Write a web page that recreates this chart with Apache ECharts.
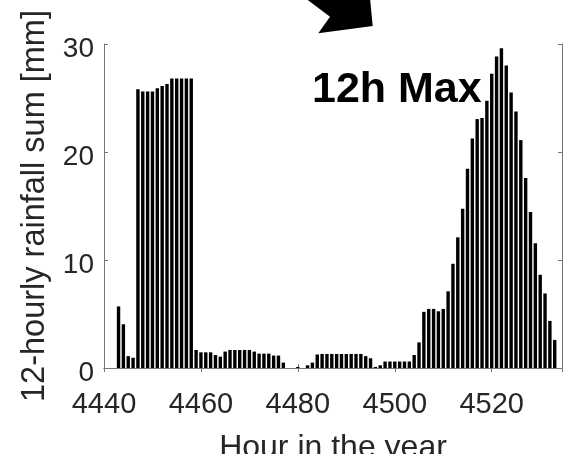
<!DOCTYPE html>
<html lang="en">
<head>
  <meta charset="UTF-8">
  <title>12h Max rainfall</title>
  <script src="https://cdn.jsdelivr.net/npm/echarts@6/dist/echarts.min.js"></script>
  <style>
    body { margin: 0; background: #fff; }
    #chart { width: 563px; height: 454px; }
  </style>
</head>
<body>
  <div id="chart"></div>
  <script>
    // hour of the year for each bar
    const hours = [
      4443, 4444, 4445, 4446, 4447, 4448, 4449, 4450, 4451, 4452,
      4453, 4454, 4455, 4456, 4457, 4458, 4459, 4460, 4461, 4462,
      4463, 4464, 4465, 4466, 4467, 4468, 4469, 4470, 4471, 4472,
      4473, 4474, 4475, 4476, 4477, 4478, 4479, 4480, 4481, 4482,
      4483, 4484, 4485, 4486, 4487, 4488, 4489, 4490, 4491, 4492,
      4493, 4494, 4495, 4496, 4497, 4498, 4499, 4500, 4501, 4502,
      4503, 4504, 4505, 4506, 4507, 4508, 4509, 4510, 4511, 4512,
      4513, 4514, 4515, 4516, 4517, 4518, 4519, 4520, 4521, 4522,
      4523, 4524, 4525, 4526, 4527, 4528, 4529, 4530, 4531, 4532,
      4533
    ];
    // 12-hourly rainfall sum [mm]
    const rainfall = [
      5.7, 4.05, 1.1, 0.95, 25.8, 25.6, 25.6, 25.6, 25.9, 26.1,
      26.3, 26.8, 26.8, 26.8, 26.8, 26.8, 1.67, 1.45, 1.45, 1.45,
      1.2, 1.05, 1.52, 1.67, 1.67, 1.67, 1.67, 1.67, 1.52, 1.33,
      1.33, 1.33, 1.15, 1.15, 0.5, 0, 0, 0.1, 0, 0.25,
      0.5, 1.25, 1.3, 1.3, 1.3, 1.3, 1.3, 1.3, 1.3, 1.3,
      1.3, 1.1, 0.9, 0.1, 0.25, 0.6, 0.6, 0.6, 0.6, 0.6,
      0.6, 1.2, 2.37, 5.2, 5.47, 5.47, 5.25, 5.47, 7.1, 9.65,
      12.1, 14.75, 18.45, 21.25, 23.05, 23.15, 24.75, 27.25, 28.85, 29.6,
      28.0, 25.5, 23.75, 21.1, 17.6, 14.45, 11.55, 8.63, 6.9, 4.36,
      2.6
    ];
    const xTicks = [4440, 4460, 4480, 4500, 4520];
    const yTicks = [0, 10, 20, 30];

    const font = "'Liberation Sans', Arial, sans-serif";
    const frameColor = '#777';
    const textColor = '#262626';

    const chart = echarts.init(document.getElementById('chart'));

    const xBase = {
      type: 'value',
      min: xTicks[0],
      max: 4534.5,
      interval: xTicks[1] - xTicks[0],
      splitLine: { show: false },
      axisLine: { lineStyle: { color: frameColor, width: 1 } },
      axisTick: { inside: true, length: 4, lineStyle: { color: frameColor } }
    };
    const yBase = {
      type: 'value',
      min: yTicks[0],
      max: yTicks[yTicks.length - 1],
      interval: yTicks[1] - yTicks[0],
      splitLine: { show: false },
      axisLine: { show: true, lineStyle: { color: frameColor, width: 1 } },
      axisTick: { show: true, inside: true, length: 4, lineStyle: { color: frameColor } }
    };

    const option = {
      animation: false,
      grid: {
        left: 104, right: 1, top: 44, bottom: 86,
        containLabel: false,
        outerBoundsMode: 'none'
      },
      xAxis: [
        Object.assign({}, xBase, {
          position: 'bottom',
          name: 'Hour in the year',
          nameLocation: 'middle',
          nameGap: 64,
          nameTextStyle: { fontFamily: font, fontSize: 32, color: textColor },
          axisLabel: {
            fontFamily: font, fontSize: 29, color: textColor, margin: 22,
            showMaxLabel: false,
            formatter: v => String(v)
          }
        }),
        Object.assign({}, xBase, {
          position: 'top',
          axisLabel: { show: false }
        })
      ],
      yAxis: [
        Object.assign({}, yBase, {
          position: 'left',
          name: '12-hourly rainfall sum [mm]',
          nameLocation: 'middle',
          nameGap: 52,
          nameTextStyle: { fontFamily: font, fontSize: 32.5, color: textColor },
          axisLabel: {
            fontFamily: font, fontSize: 28, color: textColor, margin: 10,
            verticalAlign: 'top',
            lineHeight: 10
          }
        }),
        Object.assign({}, yBase, {
          position: 'right',
          axisLabel: { show: false }
        })
      ],
      graphic: [
        {
          type: 'polygon',
          shape: { points: [[305, -2], [330, 16.7], [318.3, 33.3], [372.7, 26], [370, -2]] },
          style: { fill: '#000' }
        },
        {
          type: 'text',
          left: 312,
          top: 69,
          style: {
            text: '12h Max',
            font: 'bold 43px ' + font,
            fill: '#000'
          }
        }
      ],
      series: [{
        type: 'bar',
        xAxisIndex: 0,
        yAxisIndex: 0,
        barWidth: 3.4,
        itemStyle: { color: '#000' },
        data: hours.map((h, i) => [h, rainfall[i]])
      }]
    };

    chart.setOption(option);
  </script>
</body>
</html>
